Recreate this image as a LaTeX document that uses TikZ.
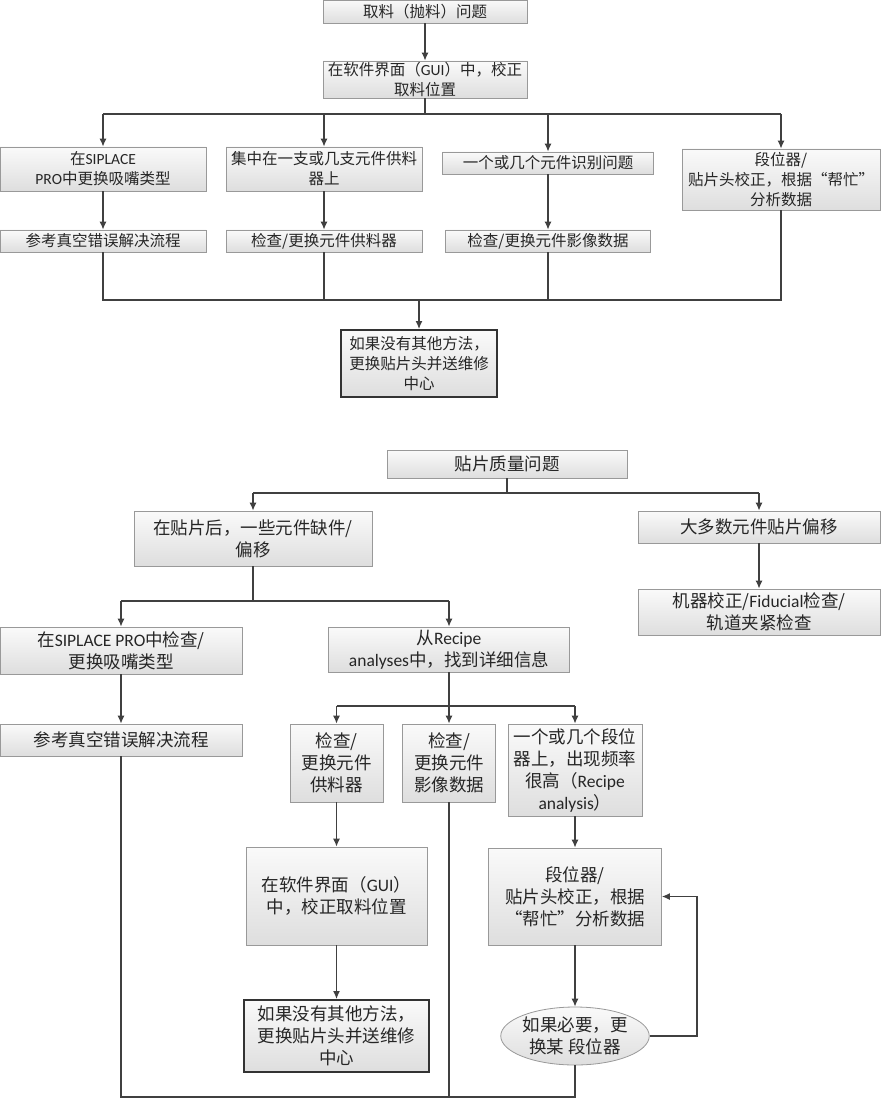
\documentclass[tikz,border=0pt]{standalone}
\usepackage{fontspec}
\newfontfamily\cjk{Noto Sans CJK SC}
\newfontfamily\lt{Carlito}
\usetikzlibrary{arrows.meta,shapes.geometric}
\begin{document}
\begin{tikzpicture}[x=1pt,y=-1pt,
 flowbox/.style={draw=black!40, line width=0.8pt, top color=black!2, bottom color=black!13, text=black!85, align=center, inner sep=1pt, anchor=center},
 topfont/.style={font=\cjk\fontsize{15.5}{20}\selectfont},
 lowfont/.style={font=\cjk\fontsize{17.5}{22}\selectfont},
 sz/.style 2 args={minimum width=#1, minimum height=#2},
 conn/.style={draw=black!75, line width=1.2pt},
 arr/.style={conn, -{Latex[length=8pt,width=7pt]}},
 heavy/.style={draw=black!80, line width=2pt}]
\useasboundingbox (0,0) rectangle (880,1099);
% ---------- top diagram ----------
\node[flowbox,topfont,sz={204pt}{23pt}] (t1) at (425,11.5) {取料（抛料）问题};
\node[flowbox,topfont,sz={204pt}{37pt}] (t2) at (425,79.5) {在软件界面（{\lt GUI}）中，校正\\取料位置};
\node[flowbox,topfont,sz={206pt}{44pt}] (a1) at (103,169) {在{\lt SIPLACE}\\{\lt PRO}中更换吸嘴类型};
\node[flowbox,topfont,sz={196pt}{44pt}] (b1) at (324,169) {集中在一支或几支元件供料\\器上};
\node[flowbox,topfont,sz={211pt}{22pt}] (c1) at (548,163) {一个或几个元件识别问题};
\node[flowbox,topfont,sz={198pt}{61pt}] (d1) at (781,179.5) {段位器/\\贴片头校正，根据“帮忙”\\分析数据};
\node[flowbox,topfont,sz={206pt}{22pt}] (a2) at (103,241) {参考真空错误解决流程};
\node[flowbox,topfont,sz={196pt}{22pt}] (b2) at (324,241) {检查/更换元件供料器};
\node[flowbox,topfont,sz={205pt}{22pt}] (c2) at (548,241) {检查/更换元件影像数据};
\node[flowbox,heavy,topfont,sz={156pt}{67pt}] (e1) at (419,363.5) {如果没有其他方法，\\更换贴片头并送维修\\中心};
\coordinate (bt) at (425,114);
\coordinate (bb) at (419,300);
\draw[arr] (t1) -- (t2);
\draw[conn] (t2.south) -- (bt);
\draw[conn] (a1.north |- bt) -- (d1.north |- bt);
\draw[arr] (a1.north |- bt) -- (a1.north);
\draw[arr] (b1.north |- bt) -- (b1.north);
\draw[arr] (c1.north |- bt) -- (c1.north);
\draw[arr] (d1.north |- bt) -- (d1.north);
\draw[arr] (a1) -- (a2);
\draw[arr] (b1) -- (b2);
\draw[arr] (c1) -- (c2);
\draw[conn] (a2.south) -- (a2.south |- bb) -- (d1.south |- bb) -- (d1.south);
\draw[conn] (b2.south) -- (b2.south |- bb);
\draw[conn] (c2.south) -- (c2.south |- bb);
\draw[arr] (bb) -- (e1.north);
% ---------- bottom diagram ----------
\node[flowbox,lowfont,sz={240pt}{28pt}] (q1) at (507,464) {贴片质量问题};
\node[flowbox,lowfont,sz={238pt}{55pt}] (f1) at (253,538.5) {在贴片后，一些元件缺件/\\偏移};
\node[flowbox,lowfont,sz={242pt}{32pt}] (g1) at (759,527) {大多数元件贴片偏移};
\node[flowbox,lowfont,sz={242pt}{46pt}] (h1) at (759,612) {机器校正/{\lt Fiducial}检查/\\轨道夹紧检查};
\node[flowbox,lowfont,sz={242pt}{47pt}] (i1) at (121,650.5) {在{\lt SIPLACE PRO}中检查/\\更换吸嘴类型};
\node[flowbox,lowfont,sz={241pt}{45pt}] (j1) at (449,649.5) {从{\lt Recipe}\\{\lt analyses}中，找到详细信息};
\node[flowbox,lowfont,sz={242pt}{32pt}] (k1) at (121,740) {参考真空错误解决流程};
\node[flowbox,lowfont,sz={93pt}{78pt}] (l1) at (336.5,763) {检查/\\更换元件\\供料器};
\node[flowbox,lowfont,sz={93pt}{78pt}] (m1) at (449,763) {检查/\\更换元件\\影像数据};
\node[flowbox,lowfont,sz={134pt}{92pt}] (n1) at (575,770) {一个或几个段位\\器上，出现频率\\很高（{\lt Recipe}\\{\lt analysis}）};
\node[flowbox,lowfont,sz={181pt}{98pt}] (o1) at (336.5,896) {在软件界面（{\lt GUI}）\\中，校正取料位置};
\node[flowbox,heavy,lowfont,sz={185pt}{72pt}] (p1) at (336.5,1036) {如果没有其他方法，\\更换贴片头并送维修\\中心};
\node[flowbox,lowfont,sz={173pt}{97pt}] (q2) at (575,896.5) {段位器/\\贴片头校正，根据\\“帮忙”分析数据};
\node[flowbox,ellipse,lowfont,inner sep=0pt,sz={140pt}{58pt}] (r1) at (575,1036) {如果必要，更\\换某 段位器};
\coordinate (bq) at (507,493);
\coordinate (bf) at (253,601);
\coordinate (bj) at (449,706);
\coordinate (loopc) at (697,1036);
\coordinate (bot) at (121,1097);
\draw[conn] (q1.south) -- (bq);
\draw[conn] (f1.north |- bq) -- (g1.north |- bq);
\draw[arr] (f1.north |- bq) -- (f1.north);
\draw[arr] (g1.north |- bq) -- (g1.north);
\draw[arr] (g1) -- (h1);
\draw[conn] (f1.south) -- (bf);
\draw[conn] (i1.north |- bf) -- (j1.north |- bf);
\draw[arr] (i1.north |- bf) -- (i1.north);
\draw[arr] (j1.north |- bf) -- (j1.north);
\draw[arr] (i1) -- (k1);
\draw[conn] (j1.south) -- (bj);
\draw[conn] (l1.north |- bj) -- (n1.north |- bj);
\draw[arr] (l1.north |- bj) -- (l1.north);
\draw[arr] (m1.north |- bj) -- (m1.north);
\draw[arr] (n1.north |- bj) -- (n1.north);
\draw[arr] (l1) -- (o1);
\draw[arr] (o1) -- (p1);
\draw[arr] (n1) -- (q2);
\draw[arr] (q2) -- (r1);
\draw[arr] (r1.east) -- (loopc) |- (q2.east);
\draw[conn] (k1.south) -- (bot) -- (r1.south |- bot) -- (r1.south);
\draw[conn] (m1.south) -- (m1.south |- bot);
\end{tikzpicture}
\end{document}
